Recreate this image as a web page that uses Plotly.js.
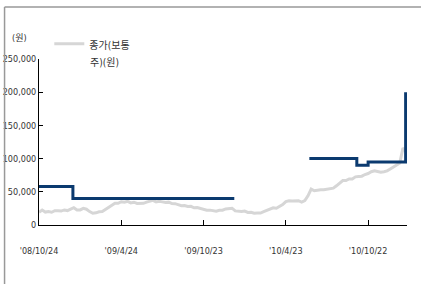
<!DOCTYPE html>
<html>
<head>
<meta charset="utf-8">
<script src="https://cdn.plot.ly/plotly-3.0.1.min.js"></script>
<style>
html,body{margin:0;padding:0;background:#fff;}
#chart{width:422px;height:284px;}
</style>
</head>
<body>
<div id="chart"></div>
<script>
// Weekly closing price (common stock, KRW)
const priceDates = [
'2008-10-24','2008-10-31','2008-11-07','2008-11-14','2008-11-21','2008-11-28','2008-12-05','2008-12-12','2008-12-19','2008-12-26',
'2009-01-02','2009-01-09','2009-01-16','2009-01-23','2009-01-30','2009-02-06','2009-02-13','2009-02-20','2009-02-27','2009-03-06',
'2009-03-13','2009-03-20','2009-03-27','2009-04-03','2009-04-10','2009-04-17','2009-04-24','2009-05-01','2009-05-08','2009-05-15',
'2009-05-22','2009-05-29','2009-06-05','2009-06-12','2009-06-19','2009-06-26','2009-07-03','2009-07-10','2009-07-17','2009-07-24',
'2009-07-31','2009-08-07','2009-08-14','2009-08-21','2009-08-28','2009-09-04','2009-09-11','2009-09-18','2009-09-25','2009-10-02',
'2009-10-09','2009-10-16','2009-10-23','2009-10-30','2009-11-06','2009-11-13','2009-11-20','2009-11-27','2009-12-04','2009-12-11',
'2009-12-18','2009-12-25','2010-01-01','2010-01-08','2010-01-15','2010-01-22','2010-01-29','2010-02-05','2010-02-12','2010-02-19',
'2010-02-26','2010-03-05','2010-03-12','2010-03-19','2010-03-26','2010-04-02','2010-04-09','2010-04-16','2010-04-23','2010-04-30',
'2010-05-07','2010-05-14','2010-05-21','2010-05-28','2010-06-04','2010-06-11','2010-06-18','2010-06-25','2010-07-02','2010-07-09',
'2010-07-16','2010-07-23','2010-07-30','2010-08-06','2010-08-13','2010-08-20','2010-08-27','2010-09-03','2010-09-10','2010-09-17',
'2010-09-24','2010-10-01','2010-10-08','2010-10-15','2010-10-22','2010-10-29','2010-11-05','2010-11-12','2010-11-19','2010-11-26',
'2010-12-03','2010-12-10','2010-12-17','2010-12-24','2010-12-31','2011-01-07','2011-01-14'
];
const priceValues = [
19200,22600,19500,20300,19200,21500,21500,21000,22700,21700,
24000,26100,22700,22700,25000,23800,20200,17600,18300,20000,
20300,23200,26500,29500,32700,32600,35000,34300,35600,33300,
34300,32500,32400,32700,34400,35700,37100,34800,35600,34800,
33800,34400,32300,32100,30800,29100,29400,27900,28200,26000,
26400,25000,23900,22400,22400,22100,20900,22100,22300,24200,
25300,25300,21200,20700,20200,21000,19000,19200,17800,17900,
18000,20000,21800,23800,25800,25300,28000,30800,35300,36400,
36000,36300,36600,34600,36700,44000,54000,51600,52500,53100,
53100,53800,55600,55500,59000,63600,67000,66900,69300,69300,
72500,73000,73500,76000,77500,80200,81700,80600,79500,80300,
81500,84400,87300,90200,93200,116000,110000
];
// Target price (step line, gaps where not covered)
const targetDates = ['2008-10-24','2009-01-07','2009-12-30',null,'2010-06-14','2010-09-27','2010-10-22','2011-01-13','2011-01-13'];
const targetValues = [58000,40000,40000,null,100000,90000,95000,95000,200000];

const tickDates = ['2008-10-24','2009-04-24','2009-10-23','2010-04-23','2010-10-22'];
const tickLabels = ["'08/10/24","'09/4/24","'09/10/23","'10/4/23","'10/10/22"];
const yTicks = [0,50000,100000,150000,200000,250000];
const yTickLabels = ['0','50,000','100,000','150,000','200,000','250,000'];
const legendLine1 = '종가(보통';
const legendLine2 = '주)(원)';
const unitLabel = '(원)';

const FONT = '"Liberation Sans Narrow","DejaVu Sans Condensed","Noto Sans CJK KR",sans-serif';

const traces = [
  {
    x: priceDates, y: priceValues, type: 'scatter', mode: 'lines',
    name: legendLine1,
    line: {color: '#d6d6d6', width: 3},
    showlegend: true
  },
  {
    x: targetDates, y: targetValues, type: 'scatter', mode: 'lines',
    name: '목표주가',
    line: {color: '#0b3a6f', width: 3, shape: 'hv'},
    connectgaps: false,
    showlegend: false
  }
];

const layout = {
  width: 422, height: 284,
  margin: {l: 38.5, r: 15, t: 59, b: 59},
  paper_bgcolor: '#fff', plot_bgcolor: '#fff',
  font: {family: FONT, size: 9, color: '#333'},
  xaxis: {
    type: 'date',
    range: ['2008-10-24', '2011-01-16'],
    tickmode: 'array', tickvals: tickDates, ticktext: tickLabels,
    ticks: 'inside', ticklen: 5, tickcolor: '#000', tickwidth: 1,
    showline: true, linecolor: '#000', linewidth: 1,
    showgrid: false, zeroline: false,
    ticklabelstandoff: 17,
    tickfont: {family: FONT, size: 9, color: '#333'}
  },
  yaxis: {
    range: [0, 250000],
    tickmode: 'array', tickvals: yTicks, ticktext: yTickLabels,
    ticks: 'inside', ticklen: 4, tickcolor: '#000', tickwidth: 1,
    showline: true, linecolor: '#000', linewidth: 1,
    showgrid: false, zeroline: false,
    tickfont: {family: FONT, size: 9, color: '#333'}
  },
  showlegend: true,
  legend: {
    x: 0.028, y: 1.17, xanchor: 'left', yanchor: 'top',
    bgcolor: 'rgba(0,0,0,0)', valign: 'top',
    font: {family: FONT, size: 10, color: '#333'},
    itemwidth: 30, tracegroupgap: 0
  },
  annotations: [
    {xref: 'paper', yref: 'paper', x: -0.026, y: 1.127, xanchor: 'right', yanchor: 'middle',
     text: unitLabel, showarrow: false, font: {family: FONT, size: 9, color: '#333'}},
    {xref: 'paper', yref: 'paper', x: 0.134, y: 0.977, xanchor: 'left', yanchor: 'middle',
     text: legendLine2, showarrow: false, font: {family: FONT, size: 10, color: '#333'}}
  ],
  shapes: [
    {type: 'line', xref: 'paper', yref: 'paper', x0: -0.0936, x1: 1.038, y0: 1.313, y1: 1.313,
     line: {color: '#999', width: 1.5}},
    {type: 'line', xref: 'paper', yref: 'paper', x0: -0.0936, x1: -0.0936, y0: 1.313, y1: -0.36,
     line: {color: '#999', width: 1.5}}
  ]
};

Plotly.newPlot('chart', traces, layout, {staticPlot: true, displayModeBar: false});
</script>
</body>
</html>
